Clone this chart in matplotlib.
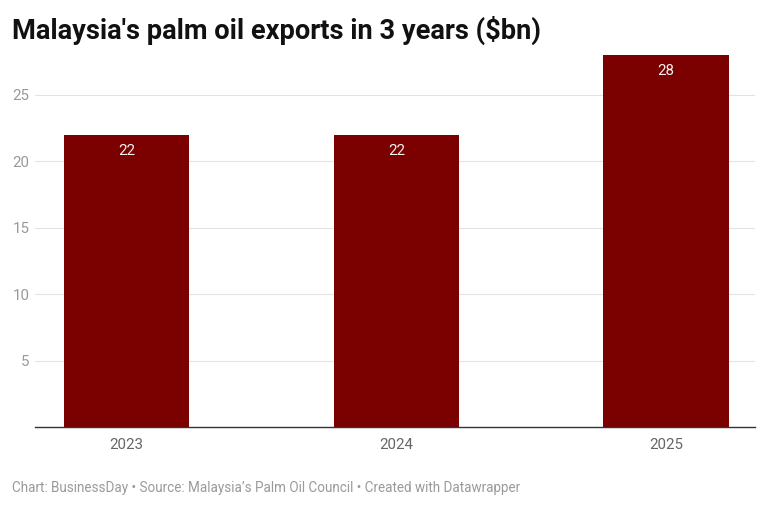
import matplotlib.pyplot as plt

years = ["2023", "2024", "2025"]
exports = [22, 22, 28]
yticks = [5, 10, 15, 20, 25]

plt.rcParams['font.family'] = ['Roboto', 'DejaVu Sans']

fig = plt.figure(figsize=(7.68, 5.09), dpi=100)
ax = fig.add_axes([35 / 768, 1 - 427 / 509, 720 / 768, 372 / 509])

x = range(len(years))
ax.bar(x, exports, width=0.465, color="#7b0000", zorder=2)
for xi, v in zip(x, exports):
    ax.annotate(str(v), (xi, v), xytext=(0, -11.5), textcoords="offset points",
                ha="center", va="center", color="#f2f2f2", fontsize=10.8, zorder=3)

ax.set_xlim(-0.34, 2.33)
ax.set_ylim(0, 28)
ax.set_yticks(yticks)
ax.set_xticks(list(x))
ax.set_xticklabels(years)
ax.yaxis.grid(True, color="#e3e3e3", linewidth=0.8, zorder=0)
ax.tick_params(axis="both", length=0, colors="#999999", labelsize=10.8)
ax.tick_params(axis="y", pad=4)
ax.tick_params(axis="x", pad=8, labelcolor="#666666")
for s in ["top", "right", "left"]:
    ax.spines[s].set_visible(False)
ax.spines["bottom"].set_color("#333333")
ax.spines["bottom"].set_linewidth(1)

fig.text(12 / 768, 1 - 30 / 509, "Malaysia's palm oil exports in 3 years ($bn)",
         fontsize=19.6, fontweight="bold", color="#111111", va="center", ha="left")
fig.text(12 / 768, 1 - 488 / 509,
         "Chart: BusinessDay • Source: Malaysia’s Palm Oil Council • Created with Datawrapper",
         fontsize=9.75, color="#9a9a9a", va="center", ha="left")

fig.savefig("out.png", dpi=100)
